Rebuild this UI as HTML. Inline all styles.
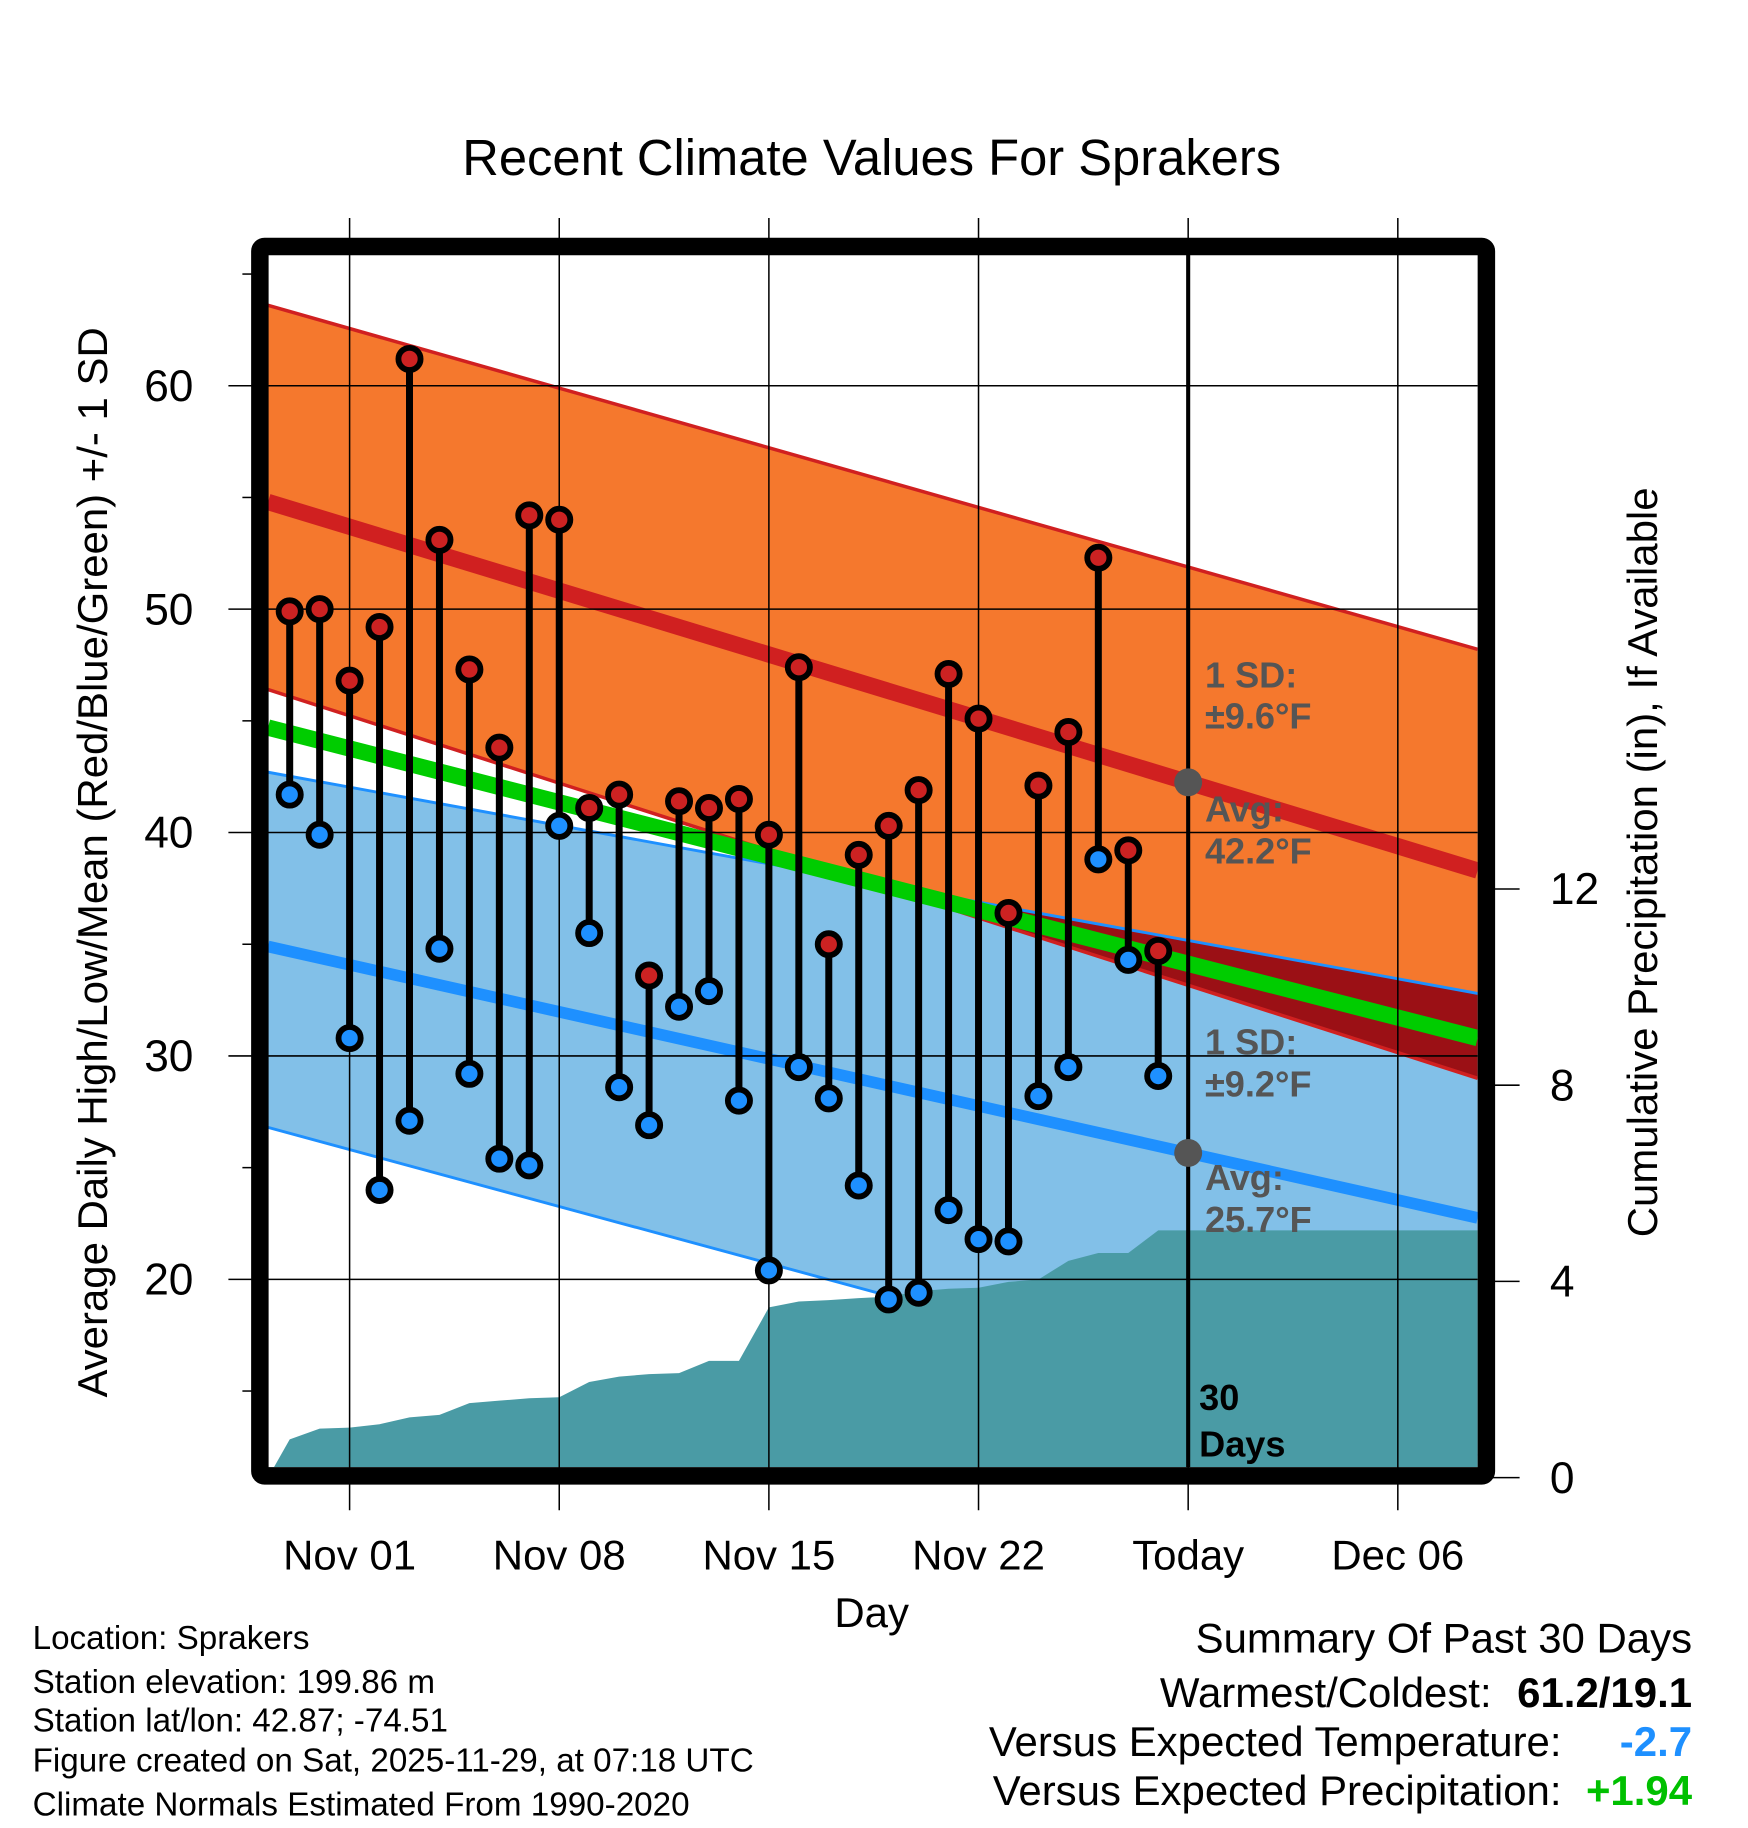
<!DOCTYPE html>
<html><head><meta charset="utf-8"><style>
html,body{margin:0;padding:0;background:#fff}
svg{display:block;font-family:"Liberation Sans",sans-serif}
</style></head><body>
<svg id="chart" width="1748" height="1828" viewBox="0 0 1500 1568.6" xmlns="http://www.w3.org/2000/svg">
<text x="748" y="150" font-size="43.5" text-anchor="middle">Recent Climate Values For Sprakers</text>
<g id="plot"></g>
<text transform="translate(92,740) rotate(-90)" font-size="36" text-anchor="middle">Average Daily High/Low/Mean (Red/Blue/Green) +/- 1 SD</text>
<text transform="translate(1422,740) rotate(-90)" font-size="36" text-anchor="middle">Cumulative Precipitation (in), If Available</text>
<text x="748" y="1396" font-size="36" text-anchor="middle">Day</text>
<g font-size="28.5">
<text x="28" y="1415">Location: Sprakers</text>
<text x="28" y="1453">Station elevation: 199.86 m</text>
<text x="28" y="1486">Station lat/lon: 42.87; -74.51</text>
<text x="28" y="1520">Figure created on Sat, 2025-11-29, at 07:18 UTC</text>
<text x="28" y="1558">Climate Normals Estimated From 1990-2020</text>
</g>
<g font-size="36" text-anchor="end">
<text x="1452" y="1418">Summary Of Past 30 Days</text>
<text x="1280" y="1465">Warmest/Coldest:</text>
<text x="1452" y="1465" font-weight="bold">61.2/19.1</text>
<text x="1340" y="1507">Versus Expected Temperature:</text>
<text x="1452" y="1507" font-weight="bold" fill="#1e90ff">-2.7</text>
<text x="1340" y="1549">Versus Expected Precipitation:</text>
<text x="1452" y="1549" font-weight="bold" fill="#00c000">+1.94</text>
</g>
</svg>
<script>
// data
const dayOffsets = [-2,-1,0,1,2,3,4,5,6,7,8,9,10,11,12,13,14,15,16,17,18,19,20,21,22,23,24,25,26,27];
const highs = [49.9,50.0,46.8,49.2,61.2,53.1,47.3,43.8,54.2,54.0,41.1,41.7,33.6,41.4,41.1,41.5,39.9,47.4,35.0,39.0,40.3,41.9,47.1,45.1,36.4,42.1,44.5,52.3,39.2,34.7];
const lows = [41.7,39.9,30.8,24.0,27.1,34.8,29.2,25.4,25.1,40.3,35.5,28.6,26.9,32.2,32.9,28.0,20.4,29.5,28.1,24.2,19.1,19.4,23.1,21.8,21.7,28.2,29.5,38.8,34.3,29.1];
const precip = [0.78,1.0,1.02,1.09,1.23,1.28,1.52,1.57,1.62,1.64,1.95,2.06,2.11,2.13,2.38,2.38,3.47,3.59,3.62,3.66,3.69,3.8,3.85,3.87,3.99,4.04,4.42,4.58,4.58,5.04];
// normals at left edge / right edge of plot
const orangeTop = [63.6,48.2];
const normHigh = [54.8,38.3];
const orangeBottom = [46.4,29.0];
const normMean = [44.7,30.8];
const blueTop = [42.7,32.8];
const normLow = [34.9,22.75];
const blueBottom = [26.8,12.1];
const xTickDays = [0,7,14,21,28,35];
const xTickLabels = ["Nov 01","Nov 08","Nov 15","Nov 22","Today","Dec 06"];
const yTicks = [20,30,40,50,60];
const y2Ticks = [0,4,8,12];
const todayDay = 28;

const NS="http://www.w3.org/2000/svg";
const L=230,R=1268,T=218,B=1259;
const xs=d=>300+25.7*d;
const ys=t=>331+(60-t)*19.17;
const yp=p=>1268-42.1*p;
const g=document.getElementById('plot');
function el(tag,attrs,parent){const e=document.createElementNS(NS,tag);for(const k in attrs)e.setAttribute(k,attrs[k]);(parent||g).appendChild(e);return e;}
const band=(a,b)=>`${L},${ys(a[0])} ${R},${ys(a[1])} ${R},${ys(b[1])} ${L},${ys(b[0])}`;
const lerp=(a,t)=>a[0]+(a[1]-a[0])*t;

const defs=el('defs',{});
const cp=el('clipPath',{id:'clip'},defs);
el('rect',{x:L,y:T,width:R-L,height:B-T},cp);
const inner=el('g',{'clip-path':'url(#clip)'});

let e=el('polygon',{points:band(orangeTop,orangeBottom),fill:'#f5782d'},inner);


e=el('polygon',{points:band(blueTop,blueBottom),fill:'#82c0e8'},inner);


// overlap
const NSTEP=100;
const ovTop=[],ovBot=[];
for(let i=0;i<=NSTEP;i++){const t=i/NSTEP,x=L+(R-L)*t;const a=lerp(blueTop,t),b=lerp(orangeBottom,t);if(a>b){ovTop.push(x+','+ys(a));ovBot.unshift(x+','+ys(b));}}
if(ovTop.length){e=el('polygon',{points:ovTop.concat(ovBot).join(' '),fill:'#9b1015'},inner);

}
function line(arr,color,w,name){const e=el('line',{x1:L,y1:ys(arr[0]),x2:R,y2:ys(arr[1]),stroke:color,'stroke-width':w},inner);

}
line(orangeTop,'#d02020',3,'high-upper-sd-line');
line(orangeBottom,'#d02020',3,'high-lower-sd-line');
line(blueTop,'#1e90ff',2.5,'low-upper-sd-line');
line(blueBottom,'#1e90ff',2.5,'low-lower-sd-line');
line(normMean,'#00cc00',14,'normal-mean-line');
line(normHigh,'#d02020',14,'normal-high-line');
line(normLow,'#1e90ff',10,'normal-low-line');
// precip
const pp=[`${L},${B}`,`${L},${yp(0)}`];
dayOffsets.forEach((d,i)=>pp.push(`${xs(d)},${yp(precip[i])}`));
pp.push(`${R},${yp(precip[precip.length-1])}`,`${R},${B}`);
e=el('polygon',{points:pp.join(' '),fill:'#4a9ba5'},inner);


// grid
xTickDays.forEach((d,i)=>{const x=xs(d);
 const ln=el('line',{x1:x,y1:187,x2:x,y2:1296,stroke:'#000','stroke-width':1.3});
 
 
 const t=el('text',{x:x,y:1347,'font-size':36,'text-anchor':'middle'});t.textContent=xTickLabels[i];
 
 
});
yTicks.forEach(v=>{const y=ys(v);
 const ln=el('line',{x1:196,y1:y,x2:R,y2:y,stroke:'#000','stroke-width':1.3});
 
 
 const t=el('text',{x:166,y:y+13,'font-size':38,'text-anchor':'end'});t.textContent=v;
 
 
});
for(let v=15;v<=65;v+=10){const y=ys(v);const ln=el('line',{x1:208,y1:y,x2:220,y2:y,stroke:'#000','stroke-width':1.3});
 
 }
y2Ticks.forEach(v=>{const y=yp(v);
 const ln=el('line',{x1:1280,y1:y,x2:1304,y2:y,stroke:'#000','stroke-width':1.3});
 
 
 const t=el('text',{x:1330,y:y+13,'font-size':38});t.textContent=v;
 
 
});
// today line
e=el('line',{x1:xs(todayDay),y1:T,x2:xs(todayDay),y2:B,stroke:'#000','stroke-width':3.5});


// stems and markers
dayOffsets.forEach((d,i)=>{const x=xs(d);
 const s=el('line',{x1:x,y1:ys(highs[i]),x2:x,y2:ys(lows[i]),stroke:'#000','stroke-width':6});
 
 
});
dayOffsets.forEach((d,i)=>{const x=xs(d);
 const h=el('circle',{cx:x,cy:ys(highs[i]),r:9.5,fill:'#cc2222',stroke:'#000','stroke-width':5});
 
 
 const l=el('circle',{cx:x,cy:ys(lows[i]),r:9.5,fill:'#1e90ff',stroke:'#000','stroke-width':5});
 
 
});
// today avg dots
const tt=(xs(todayDay)-L)/(R-L);
[normHigh,normLow].forEach(a=>{const c=el('circle',{cx:xs(todayDay),cy:ys(lerp(a,tt)),r:12,fill:'#555'});
 
 });
// annotations
function lbl(x,y,s,fill,name){const t=el('text',{x:x,y:y,'font-size':31,'font-weight':'bold',fill:fill});t.textContent=s;
 
 }
lbl(1034,590,'1 SD:','#555','high-sd-label');
lbl(1034,625,'±9.6°F','#555','high-sd-value');
lbl(1034,705,'Avg:','#555','high-avg-label');
lbl(1034,741,'42.2°F','#555','high-avg-value');
lbl(1034,905,'1 SD:','#555','low-sd-label');
lbl(1034,941,'±9.2°F','#555','low-sd-value');
lbl(1034,1021,'Avg:','#555','low-avg-label');
lbl(1034,1057,'25.7°F','#555','low-avg-value');
lbl(1029,1210,'30','#000','days-count-label');
lbl(1029,1250,'Days','#000','days-label');
// frame
e=el('rect',{x:223,y:211.5,width:1052.5,height:1055,fill:'none',stroke:'#000','stroke-width':15,rx:4});


</script>
</body></html>
